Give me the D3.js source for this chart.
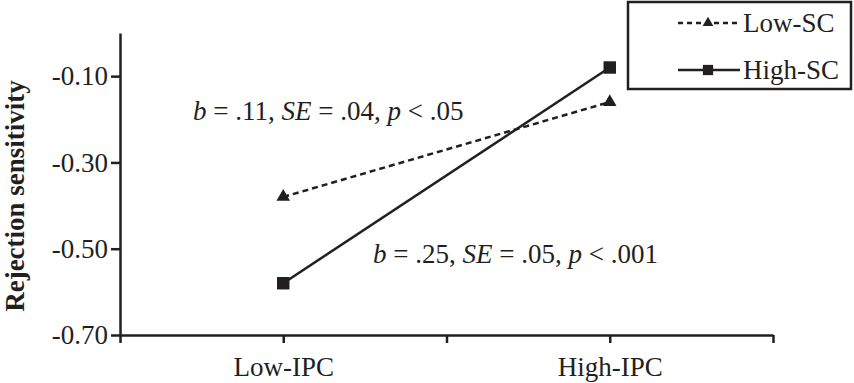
<!DOCTYPE html>
<html lang="en">
<head>
  <meta charset="UTF-8">
  <title>Rejection sensitivity - D3</title>
  <script src="https://d3js.org/d3.v7.min.js"></script>
  <style>
    body {
      margin: 0;
      background: #fff;
    }
    svg text {
      font-family: "Liberation Serif", "DejaVu Serif", serif;
      fill: #231f20;
    }
    .axis path,
    .axis line {
      stroke: #231f20;
      stroke-width: 2.5px;
    }
    .axis text {
      font-size: 27px;
    }
    .note {
      font-size: 27px;
    }
    .legend text {
      font-size: 27px;
    }
  </style>
</head>
<body>
  <script>
    // data
    var categories = ["Low-IPC", "High-IPC"];
    var catPos = [1, 3];          // categories sit on the 2nd and 4th tick
    var lowSC = [-0.38, -0.16];
    var highSC = [-0.58, -0.08];
    var yTicks = [-0.70, -0.50, -0.30, -0.10];
    var seriesNames = ["Low-SC", "High-SC"];
    var notes = [
      ["b", " = .11, ", "SE", " = .04, ", "p", " < .05"],
      ["b", " = .25, ", "SE", " = .05, ", "p", " < .001"]
    ];

    var W = 854, H = 383;
    var ink = "#231f20";

    var svg = d3.select("body")
                .append("svg")
                .attr("width", W)
                .attr("height", H);

    var x = d3.scaleLinear().domain([0, 4]).range([120, 773]);
    var y = d3.scaleLinear().domain([-0.70, 0]).range([335, 33]);

    var fmt = d => d3.format(".2f")(d).replace("\u2212", "-");

    // Axe Y
    svg.append("g")
       .attr("class", "axis")
       .attr("transform", "translate(" + x(0) + ",0)")
       .call(d3.axisLeft(y).tickValues(yTicks).tickFormat(fmt)
               .tickSize(9).tickSizeOuter(0).tickPadding(3));

    // Axe X
    svg.append("g")
       .attr("class", "axis")
       .attr("transform", "translate(0," + y(-0.70) + ")")
       .call(d3.axisBottom(x).tickValues([0, 1, 2, 3, 4])
               .tickFormat(d => { var i = catPos.indexOf(d); return i < 0 ? "" : categories[i]; })
               .tickSize(8).tickSizeOuter(0).tickPadding(14));

    d3.selectAll(".axis text").attr("fill", ink);

    // y title
    svg.append("text")
       .attr("transform", "translate(24," + 196 + ") rotate(-90)")
       .attr("text-anchor", "middle")
       .style("font-size", "27px")
       .style("font-weight", "bold")
       .text("Rejection sensitivity");

    var line = d3.line().x((d, i) => x(catPos[i])).y(d => y(d));
    var tri = d3.symbol().type(d3.symbolTriangle);
    var sq = d3.symbol().type(d3.symbolSquare);

    // Low-SC
    svg.append("path")
       .datum(lowSC)
       .attr("d", line)
       .attr("fill", "none")
       .attr("stroke", ink)
       .attr("stroke-width", 2.5)
       .attr("stroke-dasharray", "6,4");
    svg.selectAll(".tri")
       .data(lowSC)
       .enter()
       .append("path")
       .attr("class", "tri")
       .attr("transform", (d, i) => "translate(" + x(catPos[i]) + "," + y(d) + ")")
       .attr("d", tri.size(80))
       .attr("fill", ink);

    // High-SC
    svg.append("path")
       .datum(highSC)
       .attr("d", line)
       .attr("fill", "none")
       .attr("stroke", ink)
       .attr("stroke-width", 2.5);
    svg.selectAll(".sq")
       .data(highSC)
       .enter()
       .append("path")
       .attr("class", "sq")
       .attr("transform", (d, i) => "translate(" + x(catPos[i]) + "," + y(d) + ")")
       .attr("d", sq.size(155))
       .attr("fill", ink);

    // annotations
    var notePos = [[193, 120], [373, 263]];
    notes.forEach(function(parts, k) {
      var t = svg.append("text")
                 .attr("class", "note")
                 .attr("x", notePos[k][0])
                 .attr("y", notePos[k][1])
                 .attr("xml:space", "preserve");
      parts.forEach(function(p, j) {
        t.append("tspan")
         .style("font-style", j % 2 === 0 ? "italic" : "normal")
         .text(p);
      });
    });

    // Légende
    var lg = svg.append("g").attr("class", "legend");
    lg.append("rect")
      .attr("x", 628).attr("y", 2)
      .attr("width", 223).attr("height", 87)
      .attr("fill", "#fff")
      .attr("stroke", ink)
      .attr("stroke-width", 2.5);

    var rows = [23, 70];
    seriesNames.forEach(function(name, i) {
      lg.append("line")
        .attr("x1", 678).attr("x2", 740)
        .attr("y1", rows[i]).attr("y2", rows[i])
        .attr("stroke", ink)
        .attr("stroke-width", 2.5)
        .attr("stroke-dasharray", i === 0 ? "5,4" : null);
      lg.append("path")
        .attr("transform", "translate(708," + rows[i] + ")")
        .attr("d", i === 0 ? tri.size(50) : sq.size(105))
        .attr("fill", ink);
      lg.append("text")
        .attr("x", 743)
        .attr("y", rows[i] + 9)
        .text(name);
    });
  </script>
</body>
</html>
